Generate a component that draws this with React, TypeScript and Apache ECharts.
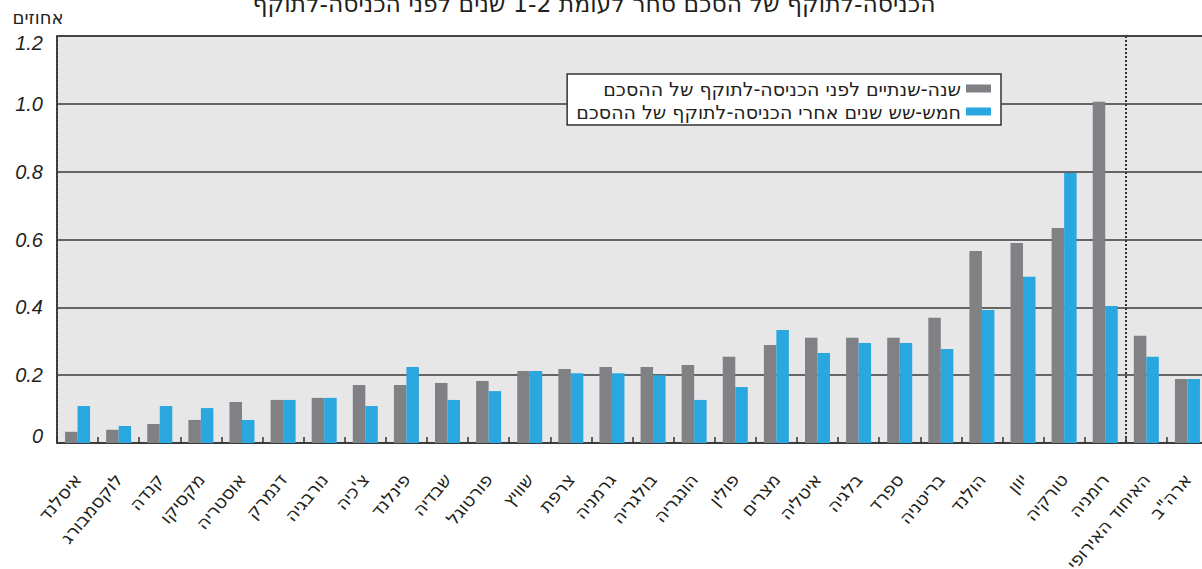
import React, { useEffect, useRef } from 'react';
import * as echarts from 'echarts';

const categories = [
  'איסלנד', 'לוקסמבורג', 'קנדה', 'מקסיקו', 'אוסטריה', 'דנמרק', 'נורבגיה', "צ'כיה",
  'פינלנד', 'שבדיה', 'פורטוגל', 'שוויץ', 'צרפת', 'גרמניה', 'בולגריה', 'הונגריה',
  'פולין', 'מצרים', 'איטליה', 'בלגיה', 'ספרד', 'בריטניה', 'הולנד', 'יוון', 'טורקיה',
  'רומניה', 'האיחוד האירופי', 'ארה"ב',
];

const beforeValues = [
  0.033, 0.039, 0.056, 0.068, 0.121, 0.127, 0.133, 0.171, 0.171, 0.177, 0.183, 0.212,
  0.218, 0.224, 0.224, 0.230, 0.254, 0.289, 0.310, 0.310, 0.310, 0.369, 0.566, 0.590,
  0.634, 1.006, 0.316, 0.189,
];

const afterValues = [
  0.109, 0.050, 0.109, 0.103, 0.068, 0.127, 0.133, 0.109, 0.224, 0.127, 0.153, 0.212,
  0.206, 0.206, 0.200, 0.127, 0.165, 0.333, 0.265, 0.295, 0.295, 0.277, 0.392, 0.490,
  0.796, 0.404, 0.254, 0.189,
];

const seriesNames = [
  'שנה-שנתיים לפני הכניסה-לתוקף של ההסכם',
  'חמש-שש שנים אחרי הכניסה-לתוקף של ההסכם',
];

const titleText = 'הכניסה-לתוקף של הסכם סחר לעומת 1-2 שנים לפני הכניסה-לתוקף';
const unitText = 'אחוזים';
const dividerIndex = 26;
const yMin = 0;
const yMax = 1.2;
const yStep = 0.2;

export default function App() {
  const ref = useRef<HTMLDivElement>(null);

  useEffect(() => {
    if (!ref.current) return;
    const chart = echarts.init(ref.current, null, { renderer: 'svg' });
    const heb = '"DejaVu Sans", "Liberation Sans", sans-serif';
    const num = '"Liberation Sans", Arial, sans-serif';
    const ink = '#231f20';
    const numStyle = { fontSize: 20, fontStyle: 'italic', fontFamily: num, color: ink };

    chart.setOption({
      animation: false,
      backgroundColor: '#ffffff',
      textStyle: { fontFamily: heb },
      graphic: [
        {
          type: 'text',
          x: 594,
          y: 4,
          style: {
            text: titleText,
            fontSize: 23.5,
            fontFamily: heb,
            fill: ink,
            textAlign: 'center',
            textVerticalAlign: 'middle',
          },
        },
        {
          type: 'text',
          x: 38,
          y: 17,
          style: {
            text: unitText,
            fontSize: 18,
            fontFamily: heb,
            fill: ink,
            textAlign: 'center',
            textVerticalAlign: 'middle',
          },
        },
      ],
      legend: {
        orient: 'vertical',
        right: 201,
        top: 74,
        align: 'right',
        icon: 'rect',
        itemWidth: 25,
        itemHeight: 8,
        itemGap: 4,
        padding: [5, 10, 4, 9],
        backgroundColor: '#ffffff',
        borderColor: '#333333',
        borderWidth: 1.5,
        textStyle: { fontSize: 19, color: ink, fontFamily: heb, lineHeight: 18 },
        data: seriesNames,
      },
      grid: {
        left: 57,
        right: -6,
        top: 36,
        bottom: 126,
        containLabel: false,
        outerBoundsMode: 'none',
        show: true,
        backgroundColor: '#e7e7e7',
        borderColor: '#3a3a3a',
        borderWidth: 1.5,
      },
      xAxis: {
        type: 'category',
        data: categories,
        boundaryGap: true,
        axisLine: { lineStyle: { color: '#3a3a3a', width: 1.5 } },
        axisTick: { show: true, inside: true, length: 6, interval: 0, lineStyle: { color: '#333333', width: 1.5 } },
        axisLabel: {
          interval: 0,
          rotate: 50,
          margin: 33,
          fontSize: 18,
          color: ink,
          fontFamily: heb,
        },
        splitLine: {
          show: true,
          interval: (i: number) => i === 0 || i === dividerIndex,
          lineStyle: { type: [2, 2], width: 2, color: '#333333' },
        },
      },
      yAxis: {
        type: 'value',
        min: yMin,
        max: yMax,
        interval: yStep,
        axisLine: { show: true, lineStyle: { color: '#3a3a3a', width: 1.5 } },
        axisTick: { show: false },
        splitLine: { lineStyle: { color: '#3a3a3a', width: 1.5 } },
        axisLabel: {
          margin: 14,
          ...numStyle,
          formatter: (v: number) => {
            if (Math.abs(v - yMin) < 1e-9) return '{bot|0}';
            if (Math.abs(v - yMax) < 1e-9) return '{top|' + v.toFixed(1) + '}';
            return v.toFixed(1);
          },
          rich: {
            top: { ...numStyle, padding: [13, 0, 0, 0] },
            bot: { ...numStyle, padding: [0, 0, 14, 0] },
          },
        },
      },
      series: [
        {
          name: seriesNames[0],
          type: 'bar',
          data: beforeValues,
          barWidth: 12.5,
          barGap: '0%',
          itemStyle: { color: '#808184' },
        },
        {
          name: seriesNames[1],
          type: 'bar',
          data: afterValues,
          barWidth: 12.5,
          barGap: '0%',
          itemStyle: { color: '#2ba7df' },
        },
      ],
    });

    return () => chart.dispose();
  }, []);

  return (
    <div
      ref={ref}
      style={{ position: 'fixed', left: 0, top: 0, width: 1202, height: 569 }}
    />
  );
}
